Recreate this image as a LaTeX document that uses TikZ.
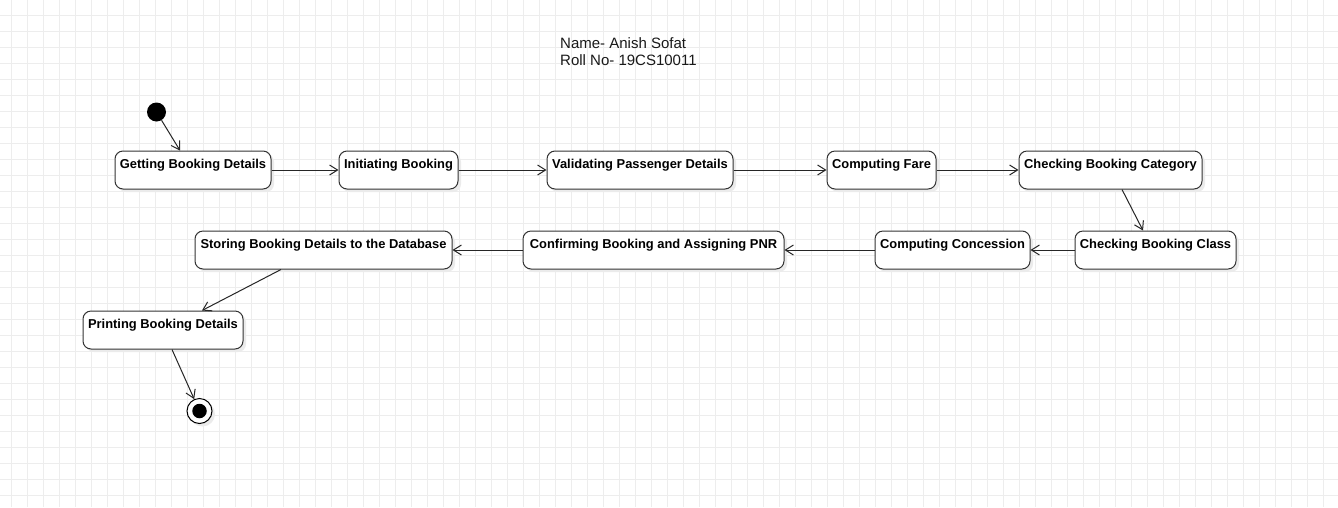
\documentclass[tikz,border=0pt]{standalone}
\usepackage{fontspec}
\setmainfont{Liberation Sans}
\usetikzlibrary{arrows.meta,shadows}

\begin{document}
\begin{tikzpicture}[x=1pt,y=-1pt]
        \useasboundingbox (0,0) rectangle (1338,507);
        \fill[white] (0,0) rectangle (1338,507);
        \foreach \x in {11,27,...,1338} \draw[black!7,line width=1pt] (\x,0) -- (\x,507);
        \foreach \y in {15,31,...,507} \draw[black!7,line width=1pt] (0,\y) -- (1338,\y);

        \node[anchor=north west,inner sep=0pt,align=left,text=black!90,
              font=\fontsize{15pt}{17pt}\selectfont] (N) at (560,37) {Name- Anish Sofat\\Roll No- 19CS10011};

        \begin{scope}[every node/.style={rectangle,rounded corners=8pt,draw=black!80,line width=1pt,fill=white,
                    drop shadow={shadow xshift=3pt,shadow yshift=-3pt,fill=black!8,opacity=1},
                    minimum height=38pt,inner xsep=2pt,inner ysep=3pt,text height=14pt,text depth=18pt,
                    font=\bfseries\fontsize{12.9pt}{15pt}\selectfont}]
            \node[minimum width=156pt] (A) at (193,170) {Getting Booking Details};
            \node[minimum width=119pt] (B) at (398.5,170) {Initiating Booking};
            \node[minimum width=186pt] (C) at (640,170) {Validating Passenger Details};
            \node[minimum width=109pt] (D) at (881.5,170) {Computing Fare};
            \node[minimum width=183pt] (E) at (1110.5,170) {Checking Booking Category};
            \node[minimum width=161pt] (F) at (1155.5,250) {Checking Booking Class};
            \node[minimum width=155pt] (G) at (952.5,250) {Computing Concession};
            \node[minimum width=261pt] (H) at (653.5,250) {Confirming Booking and Assigning PNR};
            \node[minimum width=257pt] (I) at (323.5,250) {Storing Booking Details to the Database};
            \node[minimum width=160pt] (J) at (163,330) {Printing Booking Details};
        \end{scope}

        \begin{scope}[every node/.style={circle,inner sep=0pt}]
            \node[fill=black,minimum size=19pt] (S) at (156.5,112) {};
            \node[draw=black,line width=1pt,fill=white,minimum size=25pt,
                  drop shadow={shadow xshift=3pt,shadow yshift=-3pt,fill=black!8,opacity=1}] (T) at (199.5,411) {};
            \node[fill=black,minimum size=14.5pt] (Tin) at (T) {};
        \end{scope}

        \begin{scope}[every edge/.style={draw=black!85,line width=1pt,-{Straight Barb[length=8pt,width=10pt]}}]
            \path (S) edge ([xshift=-13pt]A.north);
            \path (A) edge (B);
            \path (B) edge (C);
            \path (C) edge (D);
            \path (D) edge (E);
            \path ([xshift=11.5pt]E.south) edge ([xshift=-12.5pt]F.north);
            \path (F) edge (G);
            \path (G) edge (H);
            \path (H) edge (I);
            \path ([xshift=-42.5pt]I.south) edge ([xshift=39pt]J.north);
            \path ([xshift=9pt]J.south) edge (T);
        \end{scope}
    \end{tikzpicture}
\end{document}
